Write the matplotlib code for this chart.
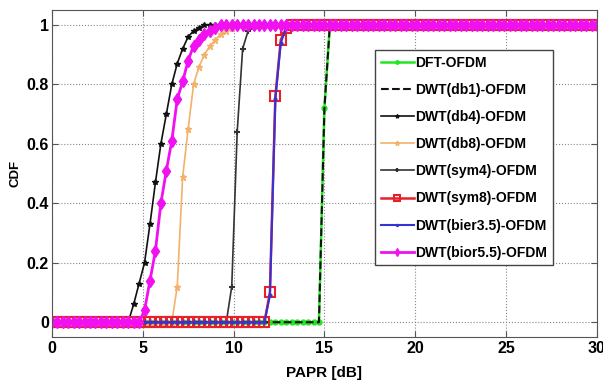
import numpy as np
import matplotlib
matplotlib.use("Agg")
import matplotlib.pyplot as plt

plt.rcParams['font.family'] = ['Liberation Sans Narrow', 'Liberation Sans', 'DejaVu Sans']
plt.rcParams['font.weight'] = 'bold'

# PAPR threshold grid used for the CDF (0 : 0.3 : 30 dB)
papr = np.round(np.arange(101) * 0.3, 1)

# rising part of each CDF: (first x on grid, values); 0 before, 1 after
dft_start, dft_rise = 14.7, [0, 0.72, 1]
db1_start, db1_rise = 14.7, [0, 0.72, 1]
db4_start, db4_rise = 4.2, [0, 0.06, 0.13, 0.20, 0.33, 0.47, 0.60, 0.70, 0.80,
                            0.87, 0.92, 0.96, 0.98, 0.99, 1]
db8_start, db8_rise = 6.6, [0, 0.12, 0.49, 0.65, 0.80, 0.86, 0.90, 0.93, 0.95,
                            0.97, 0.98, 0.99, 1]
sym4_start, sym4_rise = 9.6, [0, 0.12, 0.64, 0.92, 0.98, 0.99, 1]
sym8_start, sym8_rise = 11.7, [0, 0.10, 0.76, 0.95, 0.99, 1]
bior35_start, bior35_rise = 11.7, [0, 0.09, 0.75, 0.94, 0.99, 1]
bior55_start, bior55_rise = 4.8, [0, 0.04, 0.14, 0.24, 0.40, 0.51, 0.61, 0.75,
                                  0.81, 0.88, 0.93, 0.95, 0.97, 0.98, 0.99, 1]

labels = ["DFT-OFDM", "DWT(db1)-OFDM", "DWT(db4)-OFDM", "DWT(db8)-OFDM",
          "DWT(sym4)-OFDM", "DWT(sym8)-OFDM", "DWT(bier3.5)-OFDM", "DWT(bior5.5)-OFDM"]


def full_cdf(start, rise):
    i0 = int(round(start / 0.3))
    n_after = len(papr) - i0 - len(rise)
    return np.array([0.0] * i0 + list(rise) + [1.0] * n_after)


series = [
    (dft_start, dft_rise, dict(color="#22e622", ls="-", lw=1.8, marker=".", ms=7)),
    (db1_start, db1_rise, dict(color="#111111", ls="--", lw=1.5)),
    (db4_start, db4_rise, dict(color="#111111", ls="-", lw=1.2, marker="*", ms=4)),
    (db8_start, db8_rise, dict(color="#f2b26a", ls="-", lw=1.2, marker="*", ms=5)),
    (sym4_start, sym4_rise, dict(color="#333333", ls="-", lw=1.2, marker="+", ms=5, mew=1.5)),
    (sym8_start, sym8_rise, dict(color="#e8202a", ls="-", lw=1.8, marker="s", ms=7,
                                 mfc="none", mew=1.5)),
    (bior35_start, bior35_rise, dict(color="#3434d6", ls="-", lw=1.5, marker=".", ms=4)),
    (bior55_start, bior55_rise, dict(color="#f010f0", ls="-", lw=2.0, marker="d", ms=6)),
]

fig = plt.figure(figsize=(6.03, 3.87), dpi=100)
ax = fig.add_axes([0.086, 0.129, 0.904, 0.845])

for (s, r, kw), lab in zip(series, labels):
    ax.plot(papr, full_cdf(s, r), label=lab, **kw)

ax.set_xlim(0, 30)
ax.set_ylim(-0.05, 1.05)
ax.set_xticks([0, 5, 10, 15, 20, 25, 30])
ax.set_yticks([0, 0.2, 0.4, 0.6, 0.8, 1])
ax.set_yticklabels(["0", "0.2", "0.4", "0.6", "0.8", "1"])
ax.grid(True, ls=":", color="#888888", lw=0.8)
ax.tick_params(direction="in", top=True, right=True, length=4, labelsize=11.5,
               color="#555555", pad=3)
ax.tick_params(axis="y", pad=2)
for sp in ax.spines.values():
    sp.set_color("#555555")

ax.set_xlabel("PAPR [dB]", fontsize=11, fontweight="bold", labelpad=7)
ax.set_ylabel("CDF", fontsize=9.5, fontweight="bold", labelpad=4)

leg = ax.legend(loc="upper left", bbox_to_anchor=(0.593, 0.878), borderaxespad=0,
                fontsize=10, handlelength=2.4, labelspacing=0.95, handletextpad=0.1,
                markerscale=0.7, fancybox=False, framealpha=1, edgecolor="#444444")
leg.get_frame().set_linewidth(1.0)

fig.savefig("out.png", dpi=100)
